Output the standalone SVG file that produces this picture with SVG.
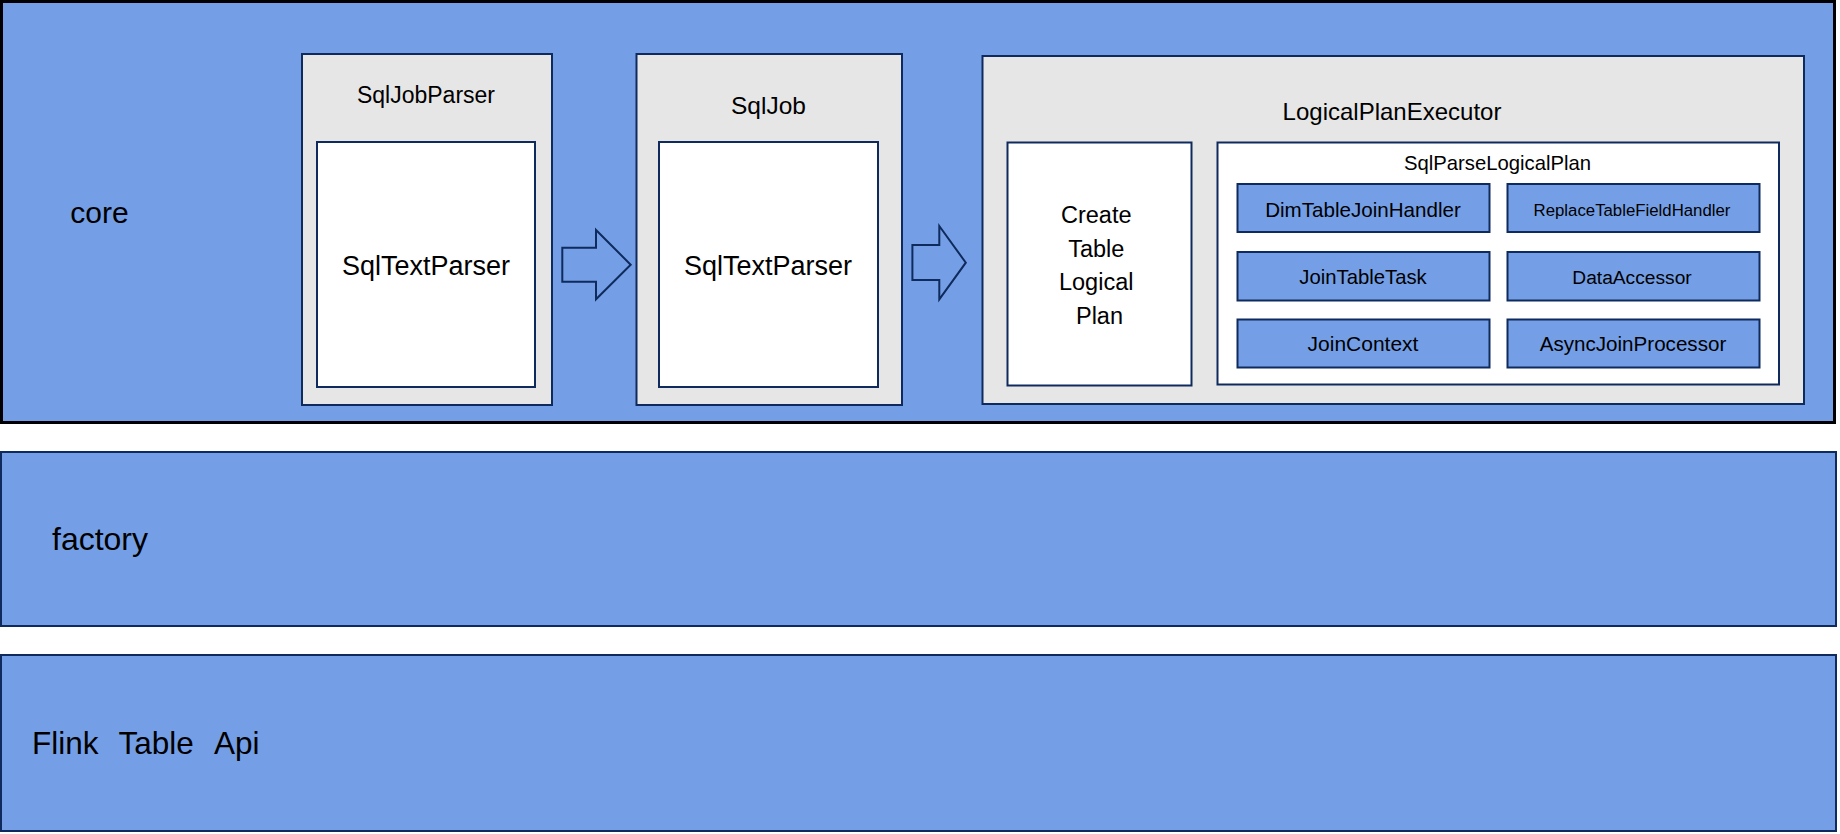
<svg xmlns="http://www.w3.org/2000/svg" width="1840" height="834" viewBox="0 0 1840 834">
<style>
text{font-family:"Liberation Sans",Arial,sans-serif;fill:#000;}
.layer{fill:#749fe6;stroke:#0f2a5c;stroke-width:2;}
.core{fill:#749fe6;stroke:#000;stroke-width:3;}
.gray{fill:#e6e6e6;stroke:#0f2a5c;stroke-width:2;}
.white{fill:#ffffff;stroke:#0f2a5c;stroke-width:2;}
.blue{fill:#749fe6;stroke:#0f2a5c;stroke-width:2;}
.arrow{fill:#749fe6;stroke:#0f2a5c;stroke-width:2;stroke-linejoin:miter;}
.m{text-anchor:middle;}
</style>
<rect width="1840" height="834" fill="#ffffff"/>
<g id="core">
<rect class="core" x="1.5" y="1.5" width="1833" height="421"/>
<text x="99.5" y="222.5" font-size="30" class="m">core</text>
</g>
<g id="factory">
<rect class="layer" x="1" y="452" width="1835" height="174"/>
<text x="100" y="550" font-size="32" class="m">factory</text>
</g>
<g id="flink">
<rect class="layer" x="1" y="655" width="1835" height="176"/>
<text y="754" font-size="31.5"><tspan x="32">Flink</tspan> <tspan x="118.5">Table</tspan> <tspan x="214">Api</tspan></text>
</g>
<g id="sqljobparser">
<rect class="gray" x="302" y="54" width="250" height="351"/>
<text x="426" y="103" font-size="23" class="m">SqlJobParser</text>
<rect class="white" x="317" y="142" width="218" height="245"/>
<text x="426" y="275" font-size="27" class="m">SqlTextParser</text>
</g>
<g id="sqljob">
<rect class="gray" x="636.5" y="54" width="265.5" height="351"/>
<text x="768.5" y="114" font-size="24.5" class="m">SqlJob</text>
<rect class="white" x="659" y="142" width="219" height="245"/>
<text x="768" y="275" font-size="27" class="m">SqlTextParser</text>
</g>
<g id="logicalplanexecutor">
<rect class="gray" x="982.5" y="56" width="821.5" height="348"/>
<text x="1392" y="120" font-size="24" class="m">LogicalPlanExecutor</text>
</g>
<g id="createtablelogicalplan">
<rect class="white" x="1007.5" y="142.5" width="184" height="243"/>
<text font-size="23.5" class="m">
<tspan x="1099.5" y="222.5">Create</tspan>
<tspan x="1099.5" y="256.5">Table</tspan>
<tspan x="1099.5" y="290">Logical</tspan>
<tspan x="1099.5" y="323.5">Plan</tspan>
</text>
</g>
<g id="sqlparselogicalplan">
<rect class="white" x="1217.5" y="142.5" width="561.5" height="242"/>
<text x="1497.5" y="170" font-size="20.3" class="m">SqlParseLogicalPlan</text>
</g>
<g id="dimtablejoinhandler">
<rect class="blue" x="1237.5" y="184" width="252" height="48"/>
<text x="1363" y="216.5" font-size="20.6" class="m">DimTableJoinHandler</text>
</g>
<g id="replacetablefieldhandler">
<rect class="blue" x="1507.5" y="184" width="252" height="48"/>
<text x="1632" y="216" font-size="16.8" class="m">ReplaceTableFieldHandler</text>
</g>
<g id="jointabletask">
<rect class="blue" x="1237.5" y="252" width="252" height="48.5"/>
<text x="1363" y="284" font-size="20.3" class="m">JoinTableTask</text>
</g>
<g id="dataaccessor">
<rect class="blue" x="1507.5" y="252" width="252" height="48.5"/>
<text x="1632" y="284" font-size="19.2" class="m">DataAccessor</text>
</g>
<g id="joincontext">
<rect class="blue" x="1237.5" y="319.5" width="252" height="48"/>
<text x="1363" y="351" font-size="21" class="m">JoinContext</text>
</g>
<g id="asyncjoinprocessor">
<rect class="blue" x="1507.5" y="319.5" width="252" height="48"/>
<text x="1633" y="351" font-size="20.6" class="m">AsyncJoinProcessor</text>
</g>
<g id="connectors">
<polygon class="arrow" points="562.3,247.7 596,247.7 596,230 630.7,264.7 596,299.3 596,281.7 562.3,281.7"/>
<polygon class="arrow" points="912.4,245 939.3,245 939.3,226 965.8,262.7 939.3,299.3 939.3,280 912.4,280"/>
</g>
</svg>
